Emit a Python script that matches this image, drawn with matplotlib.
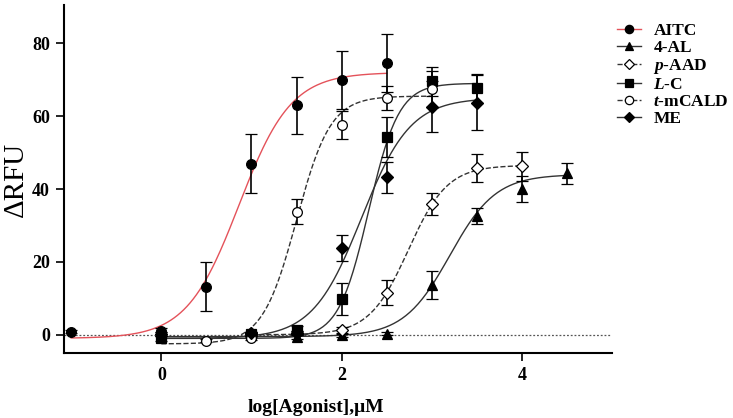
import numpy as np
import matplotlib
matplotlib.use("Agg")
import matplotlib.pyplot as plt
from matplotlib.lines import Line2D

plt.rcParams['font.family'] = ['Liberation Serif', 'DejaVu Serif']
plt.rcParams['mathtext.fontset'] = 'custom'
plt.rcParams['mathtext.it'] = 'Liberation Serif:italic:bold'
plt.rcParams['mathtext.rm'] = 'Liberation Serif:bold'

# series data: log concentration, mean dRFU, error
aitc_x = [-1, 0, 0.5, 1, 1.5, 2, 2.5]
aitc_y = [0.8, 1.0, 13.2, 47, 63, 70, 74.5]
aitc_e = [0.4, 0.8, 6.8, 8.1, 7.8, 8, 8]

al_x = [0, 1, 1.5, 2, 2.5, 3, 3.5, 4, 4.5]
al_y = [0.3, 0.0, -0.6, 0.0, 0.3, 13.7, 32.6, 40.0, 44.3]
al_e = [0.5, 0.5, 0.5, 0.5, 0.4, 3.9, 2.2, 3.6, 2.8]

paad_x = [1, 1.5, 2, 2.5, 3, 3.5, 4]
paad_y = [0.3, 0.5, 1.2, 11.6, 35.8, 45.7, 46.2]
paad_e = [0.5, 0.5, 1.0, 3.3, 3.0, 3.9, 4.0]

lc_x = [0, 1, 1.5, 2, 2.5, 3, 3.5]
lc_y = [-1.0, 0.2, 1.3, 9.8, 54.3, 69.6, 67.6]
lc_e = [0.8, 0.5, 1.0, 4.3, 5.5, 4.0, 4.0]

tm_x = [0.5, 1, 1.5, 2, 2.5, 3]
tm_y = [-1.6, -0.8, 33.8, 57.5, 65.0, 67.5]
tm_e = [0.5, 0.5, 3.5, 3.8, 3.4, 5.0]

me_x = [0, 1, 1.5, 2, 2.5, 3, 3.5]
me_y = [0.2, 0.4, 0.6, 23.8, 43.2, 62.6, 63.7]
me_e = [0.6, 0.5, 0.5, 3.5, 4.3, 7.0, 7.5]

# fitted curve parameters: bottom, top, logEC50, hill slope, x range
aitc_fit = [-1, 72, 0.86, 1.5, -1, 2.5]
al_fit = [-0.5, 44, 3.2, 1.7, 0, 4.5]
paad_fit = [0, 46.5, 2.74, 2.0, 1, 4]
lc_fit = [-1, 69, 2.3, 2.6, 0, 3.5]
tm_fit = [-2.5, 65.5, 1.5, 2.3, 0, 3.0]
me_fit = [-1, 65, 2.22, 1.6, 0, 3.5]

labels = ['AITC', '4-AL', r'$\mathit{p}$-AAD', r'$\mathit{L}$-C', r'$\mathit{t}$-mCALD', 'ME']


def hill(p):
    x = np.linspace(p[4], p[5], 200)
    y = p[0] + (p[1] - p[0]) / (1 + 10 ** ((p[2] - x) * p[3]))
    return x, y


fig = plt.figure(figsize=(7.33, 4.18), dpi=100)
ax = fig.add_axes([64 / 733, 1 - 353 / 418, 548 / 733, 348 / 418])

ax.axhline(0, color='#555555', lw=0.9, ls=(0, (1.5, 1.5)), zorder=1)

series = [
    (aitc_x, aitc_y, aitc_e, aitc_fit, 'o', 'k', '#e4525a', '-'),
    (al_x, al_y, al_e, al_fit, '^', 'k', '#333333', '-'),
    (paad_x, paad_y, paad_e, paad_fit, 'D', 'white', '#333333', '--'),
    (lc_x, lc_y, lc_e, lc_fit, 's', 'k', '#333333', '-'),
    (tm_x, tm_y, tm_e, tm_fit, 'o', 'white', '#333333', '--'),
    (me_x, me_y, me_e, me_fit, 'D', 'k', '#333333', '-'),
]

handles = []
for (x, y, e, fit, m, fc, lcol, ls), lab in zip(series, labels):
    cx, cy = hill(fit)
    ax.plot(cx, cy, color=lcol, lw=1.0, ls=ls, zorder=2)
    ms = 6 if m == 'D' else 7
    ax.errorbar(x, y, yerr=e, fmt=m, ms=ms, mfc=fc, mec='k', mew=0.9,
                ecolor='k', elinewidth=1.2, capsize=4, capthick=1.2, zorder=3)
    handles.append(Line2D([], [], color=lcol, lw=1.0, ls=ls, marker=m,
                          ms=ms - 1, mfc=fc, mec='k', mew=0.9))

ax.set_xlim(-1.08, 5.0)
ax.set_ylim(-5, 90.5)
ax.set_xticks([0, 2, 4])
ax.set_yticks([0, 20, 40, 60, 80])
for s in ['top', 'right']:
    ax.spines[s].set_visible(False)
for s in ['left', 'bottom']:
    ax.spines[s].set_linewidth(1.5)
ax.tick_params(direction='out', length=6, width=1.2, labelsize=13, pad=4)
for t in ax.get_xticklabels() + ax.get_yticklabels():
    t.set_fontweight('bold')

ax.set_xlabel('log[Agonist],μM', fontsize=14, fontweight='bold')
ax.xaxis.set_label_coords((316 - 64) / 548, -(399 - 353) / 348)
ax.set_ylabel('ΔRFU', fontsize=21)
ax.yaxis.set_label_coords(-(64 - 29) / 548, 0.5)

fig.legend(handles, labels, loc='upper left', bbox_to_anchor=(610 / 733, 1 - 16 / 418),
           frameon=False, prop={'size': 12.5, 'weight': 'bold'}, handlelength=1.4,
           handletextpad=0.7, labelspacing=0.05, borderaxespad=0)

fig.savefig('out.png', dpi=100)
